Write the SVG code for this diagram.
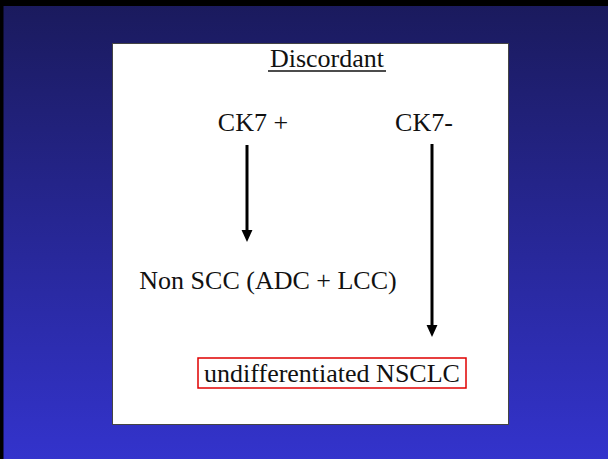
<svg xmlns="http://www.w3.org/2000/svg" width="608" height="459" viewBox="0 0 608 459">
<style>
text{font-family:"Liberation Serif","Times New Roman",serif;font-size:26px;fill:#111}
.conn line{stroke:#000;stroke-width:3}
</style>
<defs>
<linearGradient id="bg" x1="0" y1="0" x2="0" y2="1">
<stop offset="0" stop-color="#1a1a5c"/>
<stop offset="1" stop-color="#3333cc"/>
</linearGradient>
<marker id="ah" markerWidth="4" markerHeight="4.4" refX="0" refY="2" orient="auto" markerUnits="strokeWidth" viewBox="0 0 4.4 4">
<path d="M0,0 L4.4,2 L0,4 Z" fill="#000"/>
</marker>
</defs>
<rect x="0" y="0" width="608" height="459" fill="url(#bg)"/>
<rect x="0" y="0" width="608" height="6" fill="#000"/>
<rect x="0" y="0" width="3.5" height="459" fill="#000"/>
<rect x="112.5" y="43.5" width="396" height="381" fill="#fff" stroke="#444" stroke-width="1"/>
<g id="title"><text x="327" y="67" text-anchor="middle">Discordant</text><line x1="268" y1="71" x2="386" y2="71" stroke="#111" stroke-width="1.3"/></g>
<g id="ck7pos"><text x="253" y="131" text-anchor="middle">CK7 +</text></g>
<g id="ck7neg"><text x="424" y="131" text-anchor="middle">CK7-</text></g>
<g id="nonscc"><text x="268" y="289" text-anchor="middle">Non SCC (ADC + LCC)</text></g>
<g id="undiff"><rect x="198" y="358" width="268" height="30" fill="none" stroke="#e00000" stroke-width="1.5"/><text x="332" y="382" text-anchor="middle">undifferentiated NSCLC</text></g>
<g class="conn" id="connectors">
<line x1="247" y1="145" x2="247" y2="230" marker-end="url(#ah)"/>
<line x1="432" y1="144" x2="432" y2="325" marker-end="url(#ah)"/>
</g>
</svg>
